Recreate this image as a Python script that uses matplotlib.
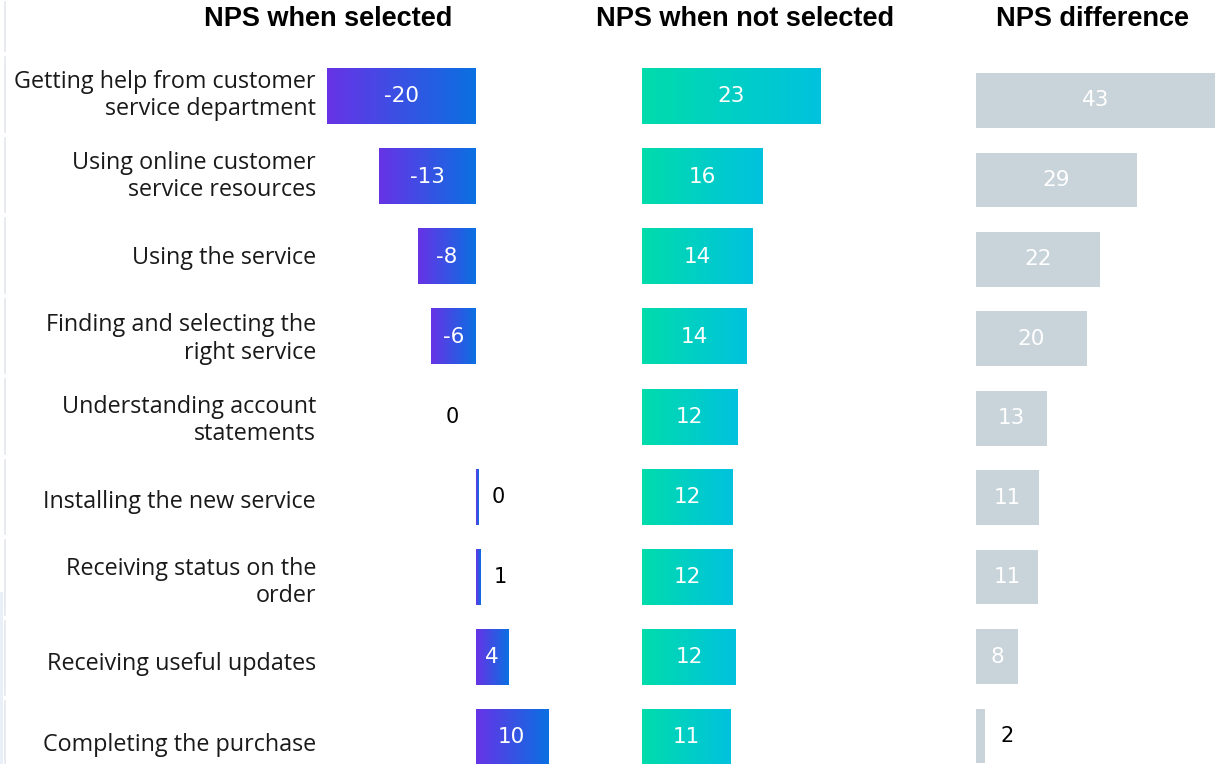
import math
import numpy as np
import matplotlib
matplotlib.use("Agg")
import matplotlib.pyplot as plt
from matplotlib.colors import LinearSegmentedColormap
from matplotlib.patches import Rectangle

# ---------------- data ----------------
categories = [
    "Getting help from customer\nservice department",
    "Using online customer\nservice resources",
    "Using the service",
    "Finding and selecting the\nright service",
    "Understanding account\nstatements",
    "Installing the new service",
    "Receiving status on the\norder",
    "Receiving useful updates",
    "Completing the purchase",
]
nps_selected = [-20.3, -13.2, -7.9, -6.1, -0.04, 0.3, 0.6, 4.4, 9.9]
nps_not_selected = [23.0, 15.6, 14.2, 13.5, 12.3, 11.7, 11.7, 12.1, 11.4]
nps_difference = [43.1, 29.0, 22.3, 20.0, 12.8, 11.4, 11.2, 7.6, 1.6]
headers = ["NPS when selected", "NPS when not selected", "NPS difference"]

# ---------------- figure ----------------
W, H = 1215, 764
fig = plt.figure(figsize=(W / 100, H / 100), dpi=100)
LABEL_FONT = ["Open Sans", "DejaVu Sans"]


def axes_px(x0, x1, y0, y1):
    ax = fig.add_axes([x0 / W, 1 - y1 / H, (x1 - x0) / W, (y1 - y0) / H])
    ax.set_axis_off()
    return ax


def fmt(v):
    n = int(math.floor(abs(v) + 0.5))
    return ("-" if (v < 0 and n > 0) else "") + str(n)


def draw_panel(ax, values, xlim, ylim, cmap=None, color=None, scale_px=7.3,
               inside_min_px=25, off_pos=10, off_neg=-12):
    h = 0.69
    for i, v in enumerate(values):
        x0, x1 = min(0, v), max(0, v)
        if abs(v) * scale_px >= 1:
            if cmap is not None:
                grad = np.linspace(0, 1, 256).reshape(1, -1)
                ax.imshow(grad, cmap=cmap, aspect="auto", interpolation="bilinear",
                          extent=(x0, x1, i + h / 2, i - h / 2), zorder=2)
            else:
                ax.add_patch(Rectangle((x0, i - h / 2), x1 - x0, h, color=color,
                                       lw=0, zorder=2))
        lab = fmt(v)
        if abs(v) * scale_px >= inside_min_px:
            ax.text((x0 + x1) / 2, i, lab, ha="center", va="center",
                    color="white", fontsize=15.5, family=["DejaVu Sans"], zorder=3)
        else:
            off = off_pos if v >= 0 else off_neg
            ax.annotate(lab, (v, i), xytext=(off, 0), textcoords="offset points",
                        ha="left" if v >= 0 else "right", va="center",
                        color="black", fontsize=15, family=["DejaVu Sans"], zorder=3)
    ax.set_xlim(*xlim)
    ax.set_ylim(*ylim)


# panel 1: NPS when selected
ax1 = axes_px(320, 570, 56, 764)
s1, z1 = 7.3, 475.5
cm1 = LinearSegmentedColormap.from_list("p", ["#6733E6", "#0A70E1"])
draw_panel(ax1, nps_selected, ((320 - z1) / s1, (570 - z1) / s1),
           ((764 - 96.5) / 80.1, (56 - 96.5) / 80.1), cmap=cm1, scale_px=s1)

# panel 2: NPS when not selected
ax2 = axes_px(630, 900, 56, 764)
s2, z2 = 7.75, 642
cm2 = LinearSegmentedColormap.from_list("t", ["#00DCAB", "#00C2DE"])
draw_panel(ax2, nps_not_selected, ((630 - z2) / s2, (900 - z2) / s2),
           ((764 - 96.5) / 80.1, (56 - 96.5) / 80.1), cmap=cm2, scale_px=s2)

# panel 3: NPS difference
ax3 = axes_px(965, 1215, 56, 764)
s3, z3 = 5.55, 976
draw_panel(ax3, nps_difference, ((965 - z3) / s3, (1215 - z3) / s3),
           ((764 - 100.5) / 79.43, (56 - 100.5) / 79.43), color="#C9D3DA",
           scale_px=s3, off_pos=11)

# headers
for txt, cx in zip(headers, [328, 745, 1093]):
    fig.text(cx / W, 1 - 19 / H, txt, ha="center", va="center",
             fontsize=19.5, fontweight="bold", family=["Liberation Sans", "DejaVu Sans"])

# row labels
axl = axes_px(0, 320, 56, 764)
axl.set_xlim(0, 320)
axl.set_ylim((764 - 95.5) / 81.2, (56 - 95.5) / 81.2)
for i, c in enumerate(categories):
    axl.text(316, i, c, ha="right", va="center", fontsize=16.8, family=LABEL_FONT,
             color="#1a1a1a", linespacing=1.18)

# faint row dividers on the far left
axf = axes_px(0, 20, 0, 764)
axf.set_xlim(0, 20)
axf.set_ylim(764, 0)
seg_edges = [0, 55] + [55 + 80.5 * k for k in range(1, 10)]
for a, b in zip(seg_edges[:-1], seg_edges[1:]):
    axf.plot([5, 5], [a + 2, b - 4], color="#E3E8EE", lw=1.2)
axf.add_patch(Rectangle((0, 592), 3, 172, color="#EAF0F8", lw=0))

fig.savefig("out.png", dpi=100)
